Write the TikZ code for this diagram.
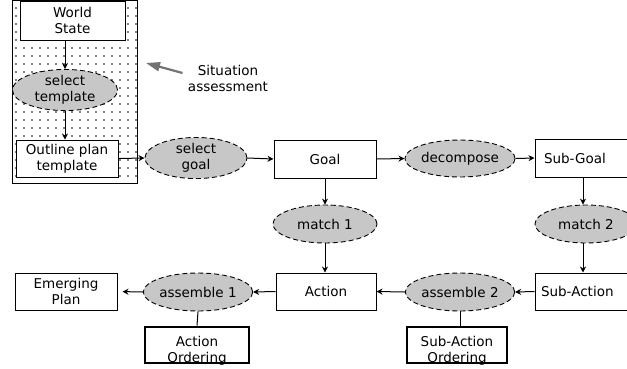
\documentclass[tikz,border=0pt]{standalone}
\usepackage{fontspec}
\setmainfont{DejaVu Sans}
\usetikzlibrary{shapes.geometric,arrows.meta,patterns.meta}
\begin{document}
\begin{tikzpicture}[x=1pt,y=-1pt,
  every node/.style={font=\fontsize{13.5}{16}\selectfont, align=center},
  box/.style={draw, fill=white, line width=1pt, rectangle, inner sep=0pt},
  proc/.style={draw, fill=black!22, ellipse, dash pattern=on 5pt off 3pt, line width=0.9pt, inner sep=0pt, minimum width=102pt, minimum height=38pt},
  ordbox/.style={draw, fill=white, line width=2.6pt, rectangle, inner sep=0pt, minimum width=102pt, minimum height=36pt},
  arr/.style={line width=1pt, -{Stealth[length=6pt,width=6pt]}},
  link/.style={line width=1pt}]
\useasboundingbox (0,0) rectangle (627,368);
\clip (0,0) rectangle (627,368);
% dotted panel
\draw[line width=1pt, pattern={Dots[distance=8pt,radius=0.9pt]}] (12,0.6) rectangle (137,183);
% left panel nodes
\node[box, minimum width=105pt, minimum height=39pt] (ws) at (72.5,20.5) {World\\State};
\node[proc, minimum width=105pt, minimum height=34pt] (st) at (65,90) {select\\template};
\node[box, minimum width=102pt, minimum height=37pt] (op) at (67,158.5) {Outline plan\\template};
% top row
\node[proc] (sg) at (196,158) {select\\goal};
\node[box, minimum width=102pt, minimum height=38pt] (goal) at (325,159) {Goal};
\node[proc, minimum height=37pt] (dec) at (460,158.5) {decompose};
\node[box, text width=84pt, align=left, inner xsep=9pt, minimum height=38pt] (sgl) at (586,158) {Sub-Goal};
% middle row
\node[proc, minimum width=104pt] (m1) at (325,224) {match 1};
\node[proc] (m2) at (586,224) {match 2};
% bottom row
\node[box, minimum width=102pt, minimum height=37pt] (ep) at (66,291.5) {Emerging\\Plan};
\node[proc] (as1) at (198,292) {assemble 1};
\node[box, minimum width=100pt, minimum height=37pt] (act) at (326,291.5) {Action};
\node[proc] (as2) at (460,292) {assemble 2};
\node[box, text width=84pt, align=left, inner xsep=6pt, minimum height=37pt] (sac) at (583,291.5) {Sub-Action};
% ordering boxes
\node[ordbox, minimum width=104pt] (ao) at (197,345) {};
\node at (197,351) {Action\\Ordering};
\node[ordbox, minimum width=100pt] (sao) at (457,345) {};
\node at (457,351) {Sub-Action\\Ordering};
% situation assessment
\node (sa) at (228,78) {Situation\\assessment};
\coordinate (satip) at (146,63);
\draw[line width=2.2pt, black!55, -{Triangle[length=14pt,width=9pt]}] (sa.west) ++(-2,-5) -- (satip);
% connectors
\draw[arr] (st.north |- ws.south) -- (st.north);
\draw[arr] (st.south) -- (st.south |- op.north);
\draw[arr] (op.east) -- (sg.west);
\draw[arr] (sg.east) -- (goal.west);
\draw[arr] (goal.east) -- (dec.west);
\draw[arr] (dec.east) -- (sgl.west);
\draw[arr] (goal.south) -- (m1.north);
\draw[arr] (m1.south) -- (m1.south |- act.north);
\draw[arr] ([xshift=-3pt]sgl.south) -- ([xshift=-3pt]m2.north);
\draw[arr] ([xshift=-3pt]m2.south) -- ([xshift=-3pt]m2.south |- sac.north);
\draw[arr] (sac.west) -- (as2.east);
\draw[arr] (as2.west) -- (act.east);
\draw[arr] (act.west) -- (as1.east);
\draw[arr, shorten >=5pt] (as1.west) -- (ep.east);
\draw[link] (as1.south) -- (ao.north);
\draw[link] (as2.south) -- (as2.south |- sao.north);
\end{tikzpicture}
\end{document}
